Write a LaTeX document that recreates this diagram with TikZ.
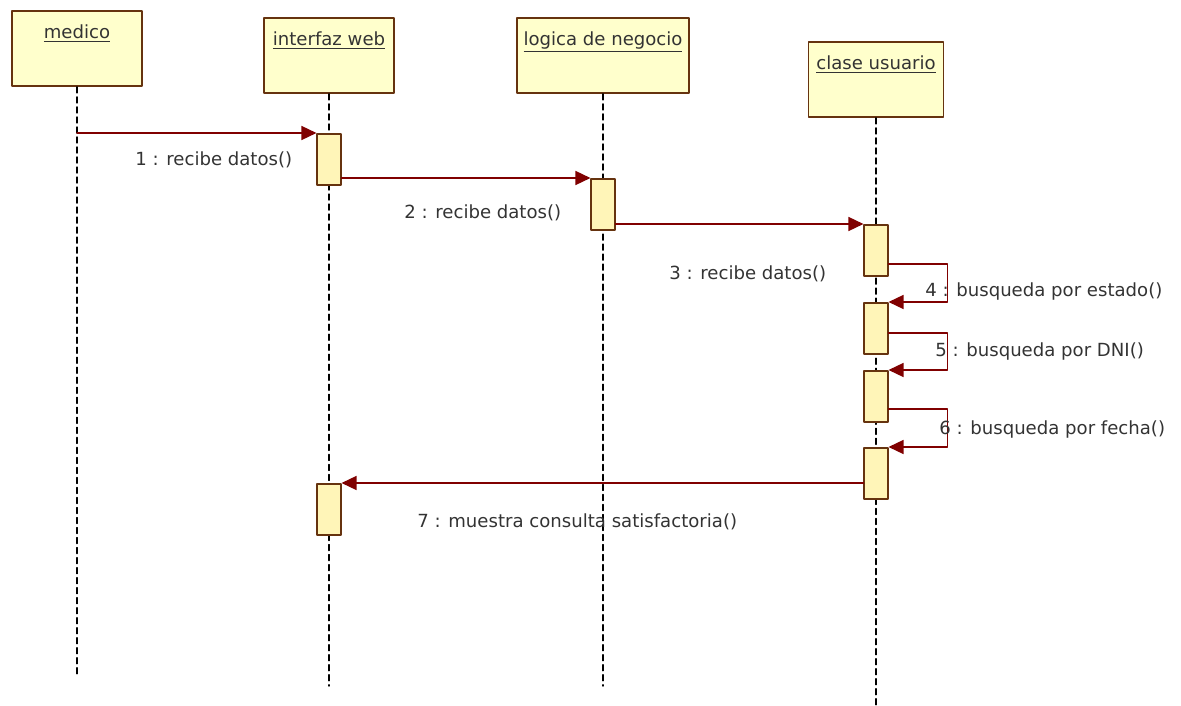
\documentclass[tikz,border=0pt]{standalone}
\usepackage{xcolor}
\usepackage{fontspec}
\setmainfont{DejaVu Sans}
\usepackage{tikz}
\usetikzlibrary{calc}
\usetikzlibrary{arrows.meta}
\definecolor{ffffcc}{rgb}{1.,1.,0.8}
\definecolor{fffabb}{rgb}{1.,0.96,0.72}
\definecolor{wwttqq}{rgb}{0.4,0.2,0.06}
\definecolor{ttqqqq}{rgb}{0.5,0.,0.}
\definecolor{zzzzzz}{rgb}{0.2,0.2,0.2}
\tikzstyle{every node}=[font=\fontsize{10.3}{12}\selectfont,text=zzzzzz]
\tikzstyle{obj}=[draw=wwttqq,line width=1.1pt,fill=ffffcc,anchor=north,inner sep=0pt,text height=0.55cm,text depth=0.95cm]
\tikzstyle{act}=[draw=wwttqq,line width=0.9pt,fill=fffabb,anchor=north,inner sep=0pt,minimum width=0.47cm,minimum height=1.03cm]
\tikzstyle{life}=[black,line width=0.8pt,dash pattern=on 3.4pt off 2.3pt]
\tikzstyle{msg}=[->,color=ttqqqq,line width=0.85pt]
\tikzstyle{lbl}=[anchor=west,inner sep=0pt]

\begin{document}
\begin{tikzpicture}[line cap=round,line join=round,>={Triangle[length=0.3cm,width=0.28cm]},x=0.02cm,y=-0.02cm]
        \useasboundingbox (0,0) rectangle (1181,706);
        % objects
        \node[obj,minimum width=2.6cm] (medico) at (77,10) {\underline{medico}};
        \node[obj,minimum width=2.6cm] (interfaz) at (329,17) {\underline{interfaz web}};
        \node[obj,minimum width=3.44cm] (logica) at (603,17) {\underline{logica de negocio}};
        \node[obj,minimum width=2.7cm] (clase) at (876,41) {\underline{clase usuario}};
        % lifelines
        \coordinate (medicoend) at (77,677);
        \coordinate (interfazend) at (329,686);
        \coordinate (logicaend) at (603,686);
        \coordinate (claseend) at (876,706);
        \draw[life] (medico.south) -- (medicoend);
        \draw[life] (interfaz.south) -- (interfazend);
        \draw[life] (logica.south) -- (logicaend);
        \draw[life] (clase.south) -- (claseend);
        % activations
        \node[act] (i1) at (329,133) {};
        \node[act] (l1) at (603,178) {};
        \node[act] (c1) at (876,224) {};
        \node[act] (c2) at (876,302) {};
        \node[act] (c3) at (876,370) {};
        \node[act] (c4) at (876,447) {};
        \node[act] (i2) at (329,483) {};
        % messages
        \draw[msg] (medico.south |- i1.north) -- (i1.north west);
        \draw[msg] (i1.east |- l1.north) -- (l1.north west);
        \draw[msg] (l1.east |- c1.north) -- (c1.north west);
        \draw[msg] ([yshift=0.26cm]c1.south east) -- ++(59,0) |- (c2.north east);
        \draw[msg] ([yshift=0.44cm]c2.south east) -- ++(59,0) |- (c3.north east);
        \draw[msg] ([yshift=0.28cm]c3.south east) -- ++(59,0) |- (c4.north east);
        \draw[msg] (c4.west |- i2.north) -- (i2.north east);
        % labels
        \node[lbl] (m1) at (135,160) {1 : recibe datos()};
        \node[lbl] (m2) at (404,213) {2 : recibe datos()};
        \node[lbl] (m3) at (669,274) {3 : recibe datos()};
        \node[lbl] (m4) at (925,292) {4 : busqueda por estado()};
        \node[lbl] (m5) at (935,352) {5 : busqueda por DNI()};
        \node[lbl] (m6) at (939,430) {6 : busqueda por fecha()};
        \node[lbl] (m7) at (417,522) {7 : muestra consulta satisfactoria()};
\end{tikzpicture}
\end{document}
